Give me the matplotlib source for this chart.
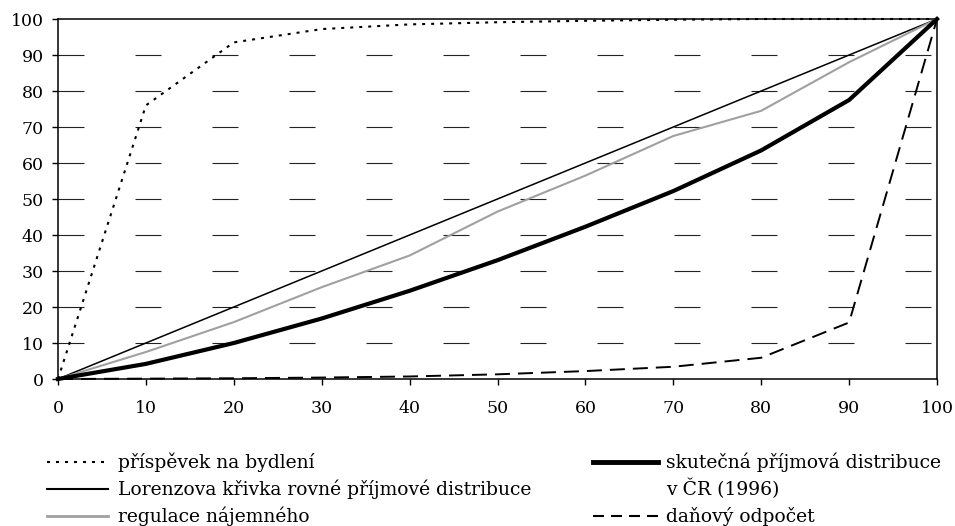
import matplotlib
matplotlib.use("Agg")
import matplotlib.pyplot as plt
from matplotlib.lines import Line2D

plt.rcParams['font.family'] = ['DejaVu Serif']
plt.rcParams['lines.scale_dashes'] = False

x = [0, 10, 20, 30, 40, 50, 60, 70, 80, 90, 100]
prispevek = [0, 76, 93.5, 97.2, 98.5, 99.1, 99.5, 99.8, 100, 100, 100]
lorenz = [0, 10, 20, 30, 40, 50, 60, 70, 80, 90, 100]
regulace = [0, 7.5, 15.8, 25.5, 34.3, 46.5, 56.5, 67.5, 74.5, 88, 100]
skutecna = [0, 4.2, 10, 16.8, 24.5, 33, 42.3, 52.2, 63.5, 77.5, 100]
danovy = [0, 0.1, 0.2, 0.4, 0.7, 1.3, 2.2, 3.4, 5.9, 15.7, 100]

labels = ["příspěvek na bydlení",
          "Lorenzova křivka rovné příjmové distribuce",
          "regulace nájemného",
          "skutečná příjmová distribuce\nv ČR (1996)",
          "daňový odpočet"]

ticks = list(range(0, 101, 10))

px = 72 / 100.0  # points per pixel

fig = plt.figure(figsize=(9.55, 5.26), dpi=100)
ax = fig.add_axes([58 / 955, 1 - 379 / 526, (937 - 58) / 955, (379 - 19) / 526])

# grid
for t in ticks[1:-1]:
    ax.axhline(t, color='#222222', lw=0.8, dashes=(26 * px, 51 * px), zorder=1)

styles = [
    dict(color='black', lw=1.5, dashes=(3 * px, 6 * px)),
    dict(color='black', lw=1.1),
    dict(color='#a0a0a0', lw=1.5),
    dict(color='black', lw=3.0),
    dict(color='black', lw=1.4, dashes=(15 * px, 8 * px)),
]
series = [prispevek, lorenz, regulace, skutecna, danovy]
for s, st in zip(series, styles):
    ax.plot(x, s, zorder=3, clip_on=False, solid_joinstyle='miter', **st)

ax.set_xlim(0, 100)
ax.set_ylim(0, 100)
ax.set_xticks(ticks)
ax.set_yticks(ticks)
ax.tick_params(axis='x', direction='out', length=4.3, width=1, pad=11, labelsize=12.5)
ax.tick_params(axis='y', direction='out', length=4.3, width=1, pad=6, labelsize=12.5)
for sp in ax.spines.values():
    sp.set_linewidth(1.1)

# legend (manual)
leg_fs = 13.5
rows = [1 - 462 / 526, 1 - 489 / 526, 1 - 516 / 526]
hx_left = (47 / 955, 108 / 955)
tx_left = 118 / 955
hx_right = (593 / 955, 658 / 955)
tx_right = 666 / 955

legend_styles = [
    dict(color='black', lw=1.5, dashes=(3 * px, 6 * px)),
    dict(color='black', lw=1.5),
    dict(color='#a0a0a0', lw=2.0),
    dict(color='black', lw=3.5),
    dict(color='black', lw=1.5, dashes=(11 * px, 7 * px)),
]
positions = [(hx_left, tx_left, rows[0]), (hx_left, tx_left, rows[1]), (hx_left, tx_left, rows[2]),
             (hx_right, tx_right, rows[0]), (hx_right, tx_right, rows[2])]
for lab, st, (hx, tx, ry) in zip(labels, legend_styles, positions):
    fig.add_artist(Line2D(list(hx), [ry, ry], transform=fig.transFigure, **st))
    if "\n" in lab:
        first, second = lab.split("\n")
        fig.text(tx, ry, first, fontsize=leg_fs, va='center', ha='left')
        fig.text(tx, rows[1], second, fontsize=leg_fs, va='center', ha='left')
    else:
        fig.text(tx, ry, lab, fontsize=leg_fs, va='center', ha='left')

fig.savefig("out.png", dpi=100)
